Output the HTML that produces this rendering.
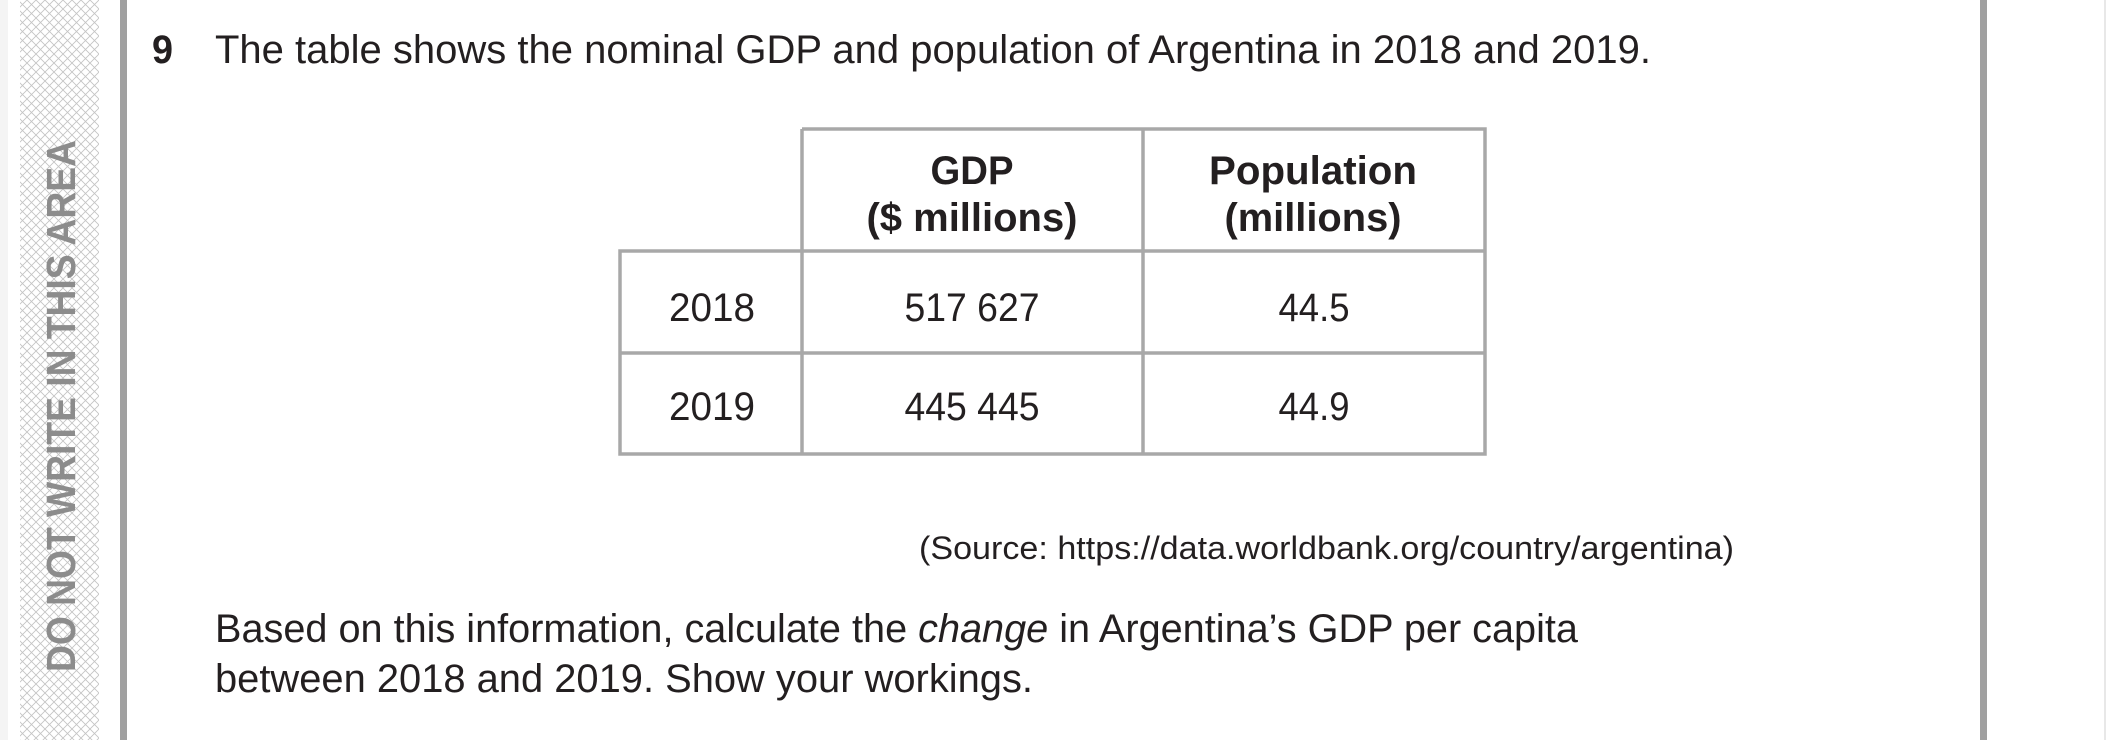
<!DOCTYPE html>
<html><head><meta charset="utf-8"><style>
html,body{margin:0;padding:0;background:#fff;}
svg{display:block;}
text{font-family:"Liberation Sans",sans-serif;fill:#231f20;}
</style></head><body>
<svg width="2106" height="740" viewBox="0 0 2106 740" xmlns="http://www.w3.org/2000/svg">
<defs>
<pattern id="h" width="9" height="9" patternUnits="userSpaceOnUse">
<path d="M0 0L9 9M9 0L0 9" stroke="#c4c4c4" stroke-width="0.9"/>
</pattern>
</defs>
<rect x="0" y="0" width="2106" height="740" fill="#fff"/>
<rect x="0" y="0" width="8" height="740" fill="#f4f4f4"/>
<rect x="20" y="0" width="79" height="740" fill="url(#h)"/>
<rect x="120" y="0" width="7" height="740" fill="#a0a0a0"/>
<rect x="1980" y="0" width="7" height="740" fill="#a0a0a0"/>
<rect x="2104" y="0" width="2" height="740" fill="#e8e8e8"/>
<text transform="translate(75,672) rotate(-90)" font-size="41" font-weight="bold" style="fill:#8c8c8c" textLength="532" lengthAdjust="spacingAndGlyphs">DO NOT WRITE IN THIS AREA</text>

<text x="152" y="63" font-size="40" font-weight="bold" textLength="21" lengthAdjust="spacingAndGlyphs">9</text>
<text x="215" y="63" font-size="40" textLength="1436" lengthAdjust="spacingAndGlyphs">The table shows the nominal GDP and population of Argentina in 2018 and 2019.</text>

<g stroke="#a8a8a8" stroke-width="3.5" fill="none">
<path d="M802 129H1485V454H620V251H1485"/>
<path d="M620 353H1485"/>
<path d="M802 129V454M1143 129V454"/>
</g>
<g font-size="40" text-anchor="middle">
<text x="972" y="184" font-weight="bold" textLength="83" lengthAdjust="spacingAndGlyphs">GDP</text>
<text x="972" y="231" font-weight="bold" textLength="211" lengthAdjust="spacingAndGlyphs">($ millions)</text>
<text x="1313" y="184" font-weight="bold" textLength="208" lengthAdjust="spacingAndGlyphs">Population</text>
<text x="1313" y="231" font-weight="bold" textLength="177" lengthAdjust="spacingAndGlyphs">(millions)</text>
<text x="712" y="321" textLength="86" lengthAdjust="spacingAndGlyphs">2018</text>
<text x="972" y="321" textLength="135" lengthAdjust="spacingAndGlyphs">517 627</text>
<text x="1314" y="321" textLength="71" lengthAdjust="spacingAndGlyphs">44.5</text>
<text x="712" y="420" textLength="86" lengthAdjust="spacingAndGlyphs">2019</text>
<text x="972" y="420" textLength="135" lengthAdjust="spacingAndGlyphs">445 445</text>
<text x="1314" y="420" textLength="71" lengthAdjust="spacingAndGlyphs">44.9</text>
</g>
<text x="919" y="559" font-size="32" textLength="815" lengthAdjust="spacingAndGlyphs">(Source: https://data.worldbank.org/country/argentina)</text>
<text x="215" y="642" font-size="40" textLength="1363" lengthAdjust="spacingAndGlyphs">Based on this information, calculate the <tspan font-style="italic">change</tspan> in Argentina’s GDP per capita</text>
<text x="215" y="692" font-size="40" textLength="818" lengthAdjust="spacingAndGlyphs">between 2018 and 2019. Show your workings.</text>
</svg>
</body></html>
